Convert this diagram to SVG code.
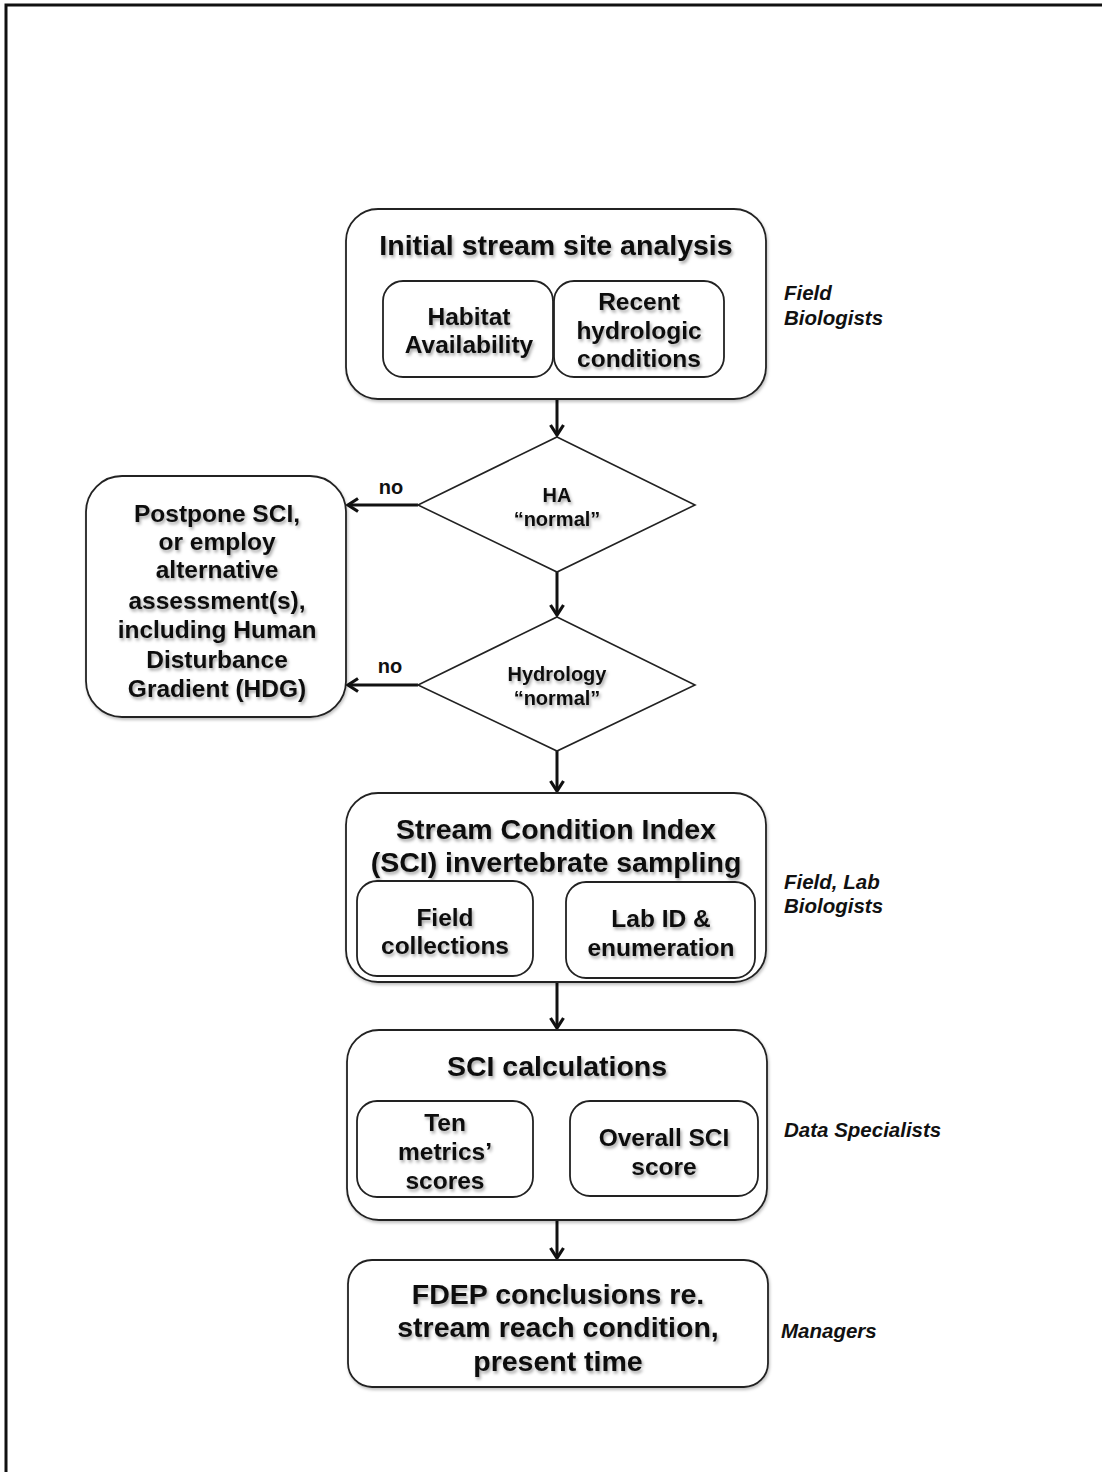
<svg xmlns="http://www.w3.org/2000/svg" width="1102" height="1472" viewBox="0 0 1102 1472">
<style>
.box{fill:#fff;stroke:#222;stroke-width:1.8}
.t{font-family:"Liberation Sans",Arial,sans-serif;font-weight:bold;fill:#111;text-anchor:middle}
.big{font-size:28.5px}
.mid{font-size:24.5px}
.sm{font-size:20px}
.lab{font-family:"Liberation Sans",Arial,sans-serif;font-weight:bold;font-style:italic;font-size:20.5px;fill:#111}
.conn{stroke:#111;stroke-width:3;fill:none}
</style>
<defs>
<filter id="sh" x="-10%" y="-10%" width="130%" height="130%">
<feDropShadow dx="1.5" dy="2.5" stdDeviation="1.5" flood-color="#000" flood-opacity="0.35"/>
</filter>
<filter id="bsh" x="-5%" y="-5%" width="115%" height="115%">
<feDropShadow dx="1" dy="2" stdDeviation="1.5" flood-color="#000" flood-opacity="0.25"/>
</filter>
<marker id="ah" markerWidth="16" markerHeight="16" refX="12" refY="8" orient="auto" markerUnits="userSpaceOnUse">
<path d="M2,1.5 L12,8 L2,14.5" fill="none" stroke="#111" stroke-width="3.2"/>
</marker>
</defs>
<rect width="1102" height="1472" fill="#fff"/>
<path d="M6,1472 V5 H1102" fill="none" stroke="#111" stroke-width="3"/>

<g id="connectors">
<line class="conn" x1="557" y1="400" x2="557" y2="435" marker-end="url(#ah)"/>
<line class="conn" x1="557" y1="572" x2="557" y2="615" marker-end="url(#ah)"/>
<line class="conn" x1="557" y1="751" x2="557" y2="791" marker-end="url(#ah)"/>
<line class="conn" x1="557" y1="983" x2="557" y2="1028" marker-end="url(#ah)"/>
<line class="conn" x1="557" y1="1221" x2="557" y2="1258" marker-end="url(#ah)"/>
<line class="conn" x1="418" y1="505" x2="348" y2="505" marker-end="url(#ah)"/>
<line class="conn" x1="418" y1="685" x2="348" y2="685" marker-end="url(#ah)"/>
<line class="conn" x1="534" y1="930" x2="564" y2="930" marker-end="url(#ah)"/>
<line class="conn" x1="534" y1="1150" x2="568" y2="1150" marker-end="url(#ah)"/>
<text class="t sm" x="391" y="494">no</text>
<text class="t sm" x="390" y="673">no</text>
</g>

<g id="initial">
<rect class="box" x="346" y="209" width="420" height="190" rx="32" filter="url(#bsh)"/>
<text class="t big" x="556" y="255" filter="url(#sh)">Initial stream site analysis</text>
</g>
<g id="habitat">
<rect class="box" x="383" y="281" width="170" height="96" rx="20"/>
<text class="t mid" x="469" y="325" filter="url(#sh)">Habitat</text>
<text class="t mid" x="469" y="353" filter="url(#sh)">Availability</text>
</g>
<g id="recent">
<rect class="box" x="554" y="281" width="170" height="96" rx="20"/>
<text class="t mid" x="639" y="310" filter="url(#sh)">Recent</text>
<text class="t mid" x="639" y="339" filter="url(#sh)">hydrologic</text>
<text class="t mid" x="639" y="367" filter="url(#sh)">conditions</text>
</g>

<g id="ha">
<polygon points="557,437 695,505 557,572 418,505" fill="#fff" stroke="#222" stroke-width="1.6"/>
<text class="t sm" x="557" y="502" filter="url(#sh)">HA</text>
<text class="t sm" x="557" y="526" filter="url(#sh)">“normal”</text>
</g>
<g id="hydrology">
<polygon points="557,617 695,685 557,751 418,685" fill="#fff" stroke="#222" stroke-width="1.6"/>
<text class="t sm" x="557" y="681" filter="url(#sh)">Hydrology</text>
<text class="t sm" x="557" y="705" filter="url(#sh)">“normal”</text>
</g>

<g id="postpone">
<rect class="box" x="86" y="476" width="260" height="241" rx="36" filter="url(#bsh)"/>
<text class="t mid" x="217" y="522" filter="url(#sh)">Postpone SCI,</text>
<text class="t mid" x="217" y="550" filter="url(#sh)">or employ</text>
<text class="t mid" x="217" y="578" filter="url(#sh)">alternative</text>
<text class="t mid" x="217" y="609" filter="url(#sh)">assessment(s),</text>
<text class="t mid" x="217" y="638" filter="url(#sh)">including Human</text>
<text class="t mid" x="217" y="668" filter="url(#sh)">Disturbance</text>
<text class="t mid" x="217" y="697" filter="url(#sh)">Gradient (HDG)</text>
</g>

<g id="sci">
<rect class="box" x="346" y="793" width="420" height="189" rx="32" filter="url(#bsh)"/>
<text class="t big" x="556" y="839" filter="url(#sh)">Stream Condition Index</text>
<text class="t big" x="556" y="872" filter="url(#sh)">(SCI) invertebrate sampling</text>
</g>
<g id="field">
<rect class="box" x="357" y="881" width="176" height="95" rx="20"/>
<text class="t mid" x="445" y="926" filter="url(#sh)">Field</text>
<text class="t mid" x="445" y="954" filter="url(#sh)">collections</text>
</g>
<g id="lab">
<rect class="box" x="566" y="882" width="189" height="96" rx="20"/>
<text class="t mid" x="661" y="927" filter="url(#sh)">Lab ID &amp;</text>
<text class="t mid" x="661" y="956" filter="url(#sh)">enumeration</text>
</g>

<g id="calc">
<rect class="box" x="347" y="1030" width="420" height="190" rx="32" filter="url(#bsh)"/>
<text class="t big" x="557" y="1076" filter="url(#sh)">SCI calculations</text>
</g>
<g id="ten">
<rect class="box" x="357" y="1101" width="176" height="96" rx="20"/>
<text class="t mid" x="445" y="1131" filter="url(#sh)">Ten</text>
<text class="t mid" x="445" y="1160" filter="url(#sh)">metrics’</text>
<text class="t mid" x="445" y="1189" filter="url(#sh)">scores</text>
</g>
<g id="overall">
<rect class="box" x="570" y="1101" width="188" height="95" rx="20"/>
<text class="t mid" x="664" y="1146" filter="url(#sh)">Overall SCI</text>
<text class="t mid" x="664" y="1175" filter="url(#sh)">score</text>
</g>

<g id="fdep">
<rect class="box" x="348" y="1260" width="420" height="127" rx="24" filter="url(#bsh)"/>
<text class="t big" x="558" y="1304" filter="url(#sh)">FDEP conclusions re.</text>
<text class="t big" x="558" y="1337" filter="url(#sh)">stream reach condition,</text>
<text class="t big" x="558" y="1371" filter="url(#sh)">present time</text>
</g>

<g id="roles">
<text class="lab" x="784" y="300">Field</text>
<text class="lab" x="784" y="325">Biologists</text>
<text class="lab" x="784" y="889">Field, Lab</text>
<text class="lab" x="784" y="913">Biologists</text>
<text class="lab" x="784" y="1137">Data Specialists</text>
<text class="lab" x="781" y="1338">Managers</text>
</g>
</svg>
